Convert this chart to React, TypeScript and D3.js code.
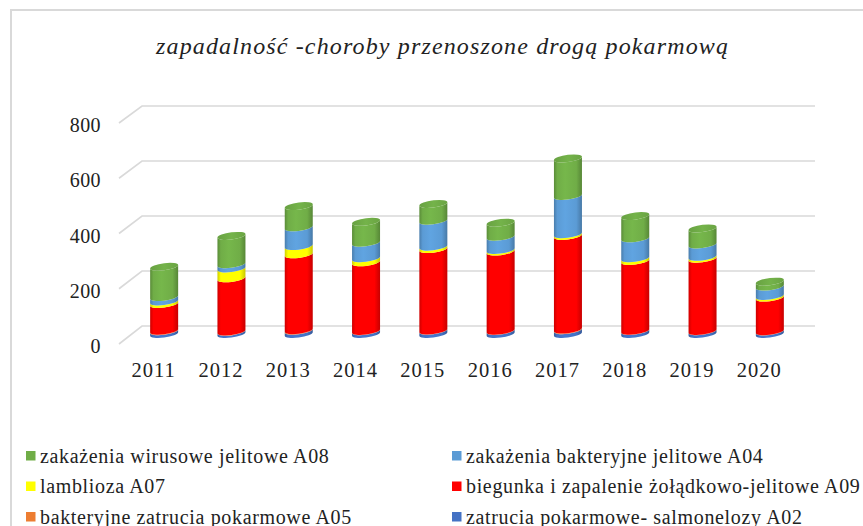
import React from 'react';
import * as d3 from 'd3';

const years = ['2011', '2012', '2013', '2014', '2015', '2016', '2017', '2018', '2019', '2020'];
// stacked bottom -> top
const A02 = [10, 8, 12, 10, 12, 11, 14, 11, 10, 9];
const A05 = [2, 1, 2, 1, 1, 1, 2, 1, 1, 1];
const A09 = [97, 193, 275, 249, 295, 287, 340, 253, 262, 122];
const A07 = [9, 36, 30, 15, 9, 6, 6, 10, 7, 6];
const A04 = [16, 15, 68, 56, 94, 48, 139, 72, 45, 34];
const A08 = [110, 103, 77, 76, 61, 51, 136, 81, 58, 18];
const yTicks = [0, 200, 400, 600, 800];

const seriesNames = [
  'zatrucia pokarmowe- salmonelozy A02',
  'bakteryjne zatrucia pokarmowe  A05',
  'biegunka i zapalenie żołądkowo-jelitowe A09',
  'lamblioza A07',
  'zakażenia bakteryjne jelitowe A04',
  'zakażenia wirusowe jelitowe A08',
];
const seriesColors = ['#4472C4', '#ED7D31', '#FF0000', '#FFFF00', '#5B9BD5', '#70AD47'];
const seriesValues = [A02, A05, A09, A07, A04, A08];
// legend order (rows, two columns)
const legendOrder = [5, 4, 3, 2, 1, 0];

const title = 'zapadalność -choroby przenoszone drogą pokarmową';

export default function App() {
  const W = 863, H = 526;
  const x = d3.scaleBand<string>().domain(years).range([119, 792]);
  const yFront = d3.scaleLinear().domain([0, 800]).range([344, 123]);
  const yBack = d3.scaleLinear().domain([0, 800]).range([326, 106]);
  const depthDx = 23;
  const yMid = (v: number) => (yFront(v) + yBack(v)) / 2 - 1;

  const table = years.map((yr, i) => {
    const o: any = { year: yr };
    seriesNames.forEach((n, k) => (o[n] = seriesValues[k][i]));
    return o;
  });
  const stack = d3.stack<any>().keys(seriesNames)(table);

  const barW = 28;
  const rx = barW / 2;
  const ry = 3.6;

  const shade = (c: string, k: number) => {
    const col = d3.color(c)!;
    return k >= 0 ? col.brighter(k).formatHex() : col.darker(-k).formatHex();
  };

  const segPath = (cx: number, yTop: number, yBot: number) => {
    const l = cx - rx, r = cx + rx;
    return `M${l},${yTop} L${l},${yBot} A${rx},${ry} 0 0 0 ${r},${yBot} L${r},${yTop} A${rx},${ry} 0 0 1 ${l},${yTop} Z`;
  };

  const serif: React.CSSProperties = { fontFamily: "'Liberation Serif', 'DejaVu Serif', serif" };

  return (
    <svg width={W} height={H} style={{ position: 'absolute', left: 0, top: 0, background: '#fff' }}>
      <defs>
        {seriesColors.map((c, k) => (
          <linearGradient key={k} id={`g${k}`} x1="0" x2="1" y1="0" y2="0">
            <stop offset="0%" stopColor={shade(c, -0.6)} />
            <stop offset="12%" stopColor={c} />
            <stop offset="40%" stopColor={shade(c, 0.15)} />
            <stop offset="80%" stopColor={c} />
            <stop offset="100%" stopColor={shade(c, -0.7)} />
          </linearGradient>
        ))}
        {seriesColors.map((c, k) => (
          <linearGradient key={'t' + k} id={`t${k}`} x1="0" x2="1" y1="0" y2="0">
            <stop offset="0%" stopColor={shade(c, -0.2)} />
            <stop offset="50%" stopColor={shade(c, 0.1)} />
            <stop offset="100%" stopColor={shade(c, -0.15)} />
          </linearGradient>
        ))}
      </defs>

      {/* chart border */}
      <rect x={11} y={10} width={900} height={600} fill="none" stroke="#d9d9d9" strokeWidth={2} />

      {/* title */}
      <text x={156} y={54} style={serif} fontStyle="italic" fontSize={24} fill="#222"
        textLength={572} lengthAdjust="spacing">{title}</text>

      {/* gridlines (3D walls) */}
      {yTicks.map(t => (
        <polyline key={t}
          points={`${x.range()[0]},${yFront(t)} ${x.range()[0] + depthDx},${yBack(t)} ${815},${yBack(t)}`}
          fill="none" stroke="#d9d9d9" strokeWidth={1.6} />
      ))}

      {/* y tick labels */}
      {yTicks.map(t => (
        <text key={t} x={101} y={yFront(t) + 2} dy="0.35em" textAnchor="end"
          style={serif} fontSize={20} letterSpacing={0.4} fill="#222">{t}</text>
      ))}

      {/* x labels */}
      {years.map(yr => (
        <text key={yr} x={x(yr)! + x.bandwidth() / 2 + 1} y={377} textAnchor="middle"
          style={serif} fontSize={20.5} letterSpacing={1} fill="#222">{yr}</text>
      ))}

      {/* bars */}
      {years.map((yr, i) => {
        const cx = x(yr)! + x.bandwidth() / 2 + depthDx / 2;
        const total = stack[stack.length - 1][i][1];
        const topK = stack.length - 1;
        return (
          <g key={yr} transform={`translate(${cx},0) skewY(-7) translate(${-cx},0)`}>
            {stack.map((s, k) => {
              const [a, b] = s[i];
              if (b - a <= 0) return null;
              return <path key={k} d={segPath(cx, yMid(b), yMid(a))} fill={`url(#g${k})`} />;
            })}
            <ellipse cx={cx} cy={yMid(total)} rx={rx} ry={ry} fill={`url(#t${topK})`} />
          </g>
        );
      })}

      {/* legend */}
      {legendOrder.map((k, j) => {
        const col = j % 2;
        const row = Math.floor(j / 2);
        const mx = col === 0 ? 26 : 452;
        const cy = 456 + row * 30.5;
        return (
          <g key={k}>
            <rect x={mx} y={cy - 5} width={9.5} height={9.5} fill={seriesColors[k]} />
            <text x={mx + 14} y={cy} dy="0.33em" style={serif} fontSize={20} letterSpacing={0.65} fill="#222">
              {seriesNames[k]}
            </text>
          </g>
        );
      })}
    </svg>
  );
}
